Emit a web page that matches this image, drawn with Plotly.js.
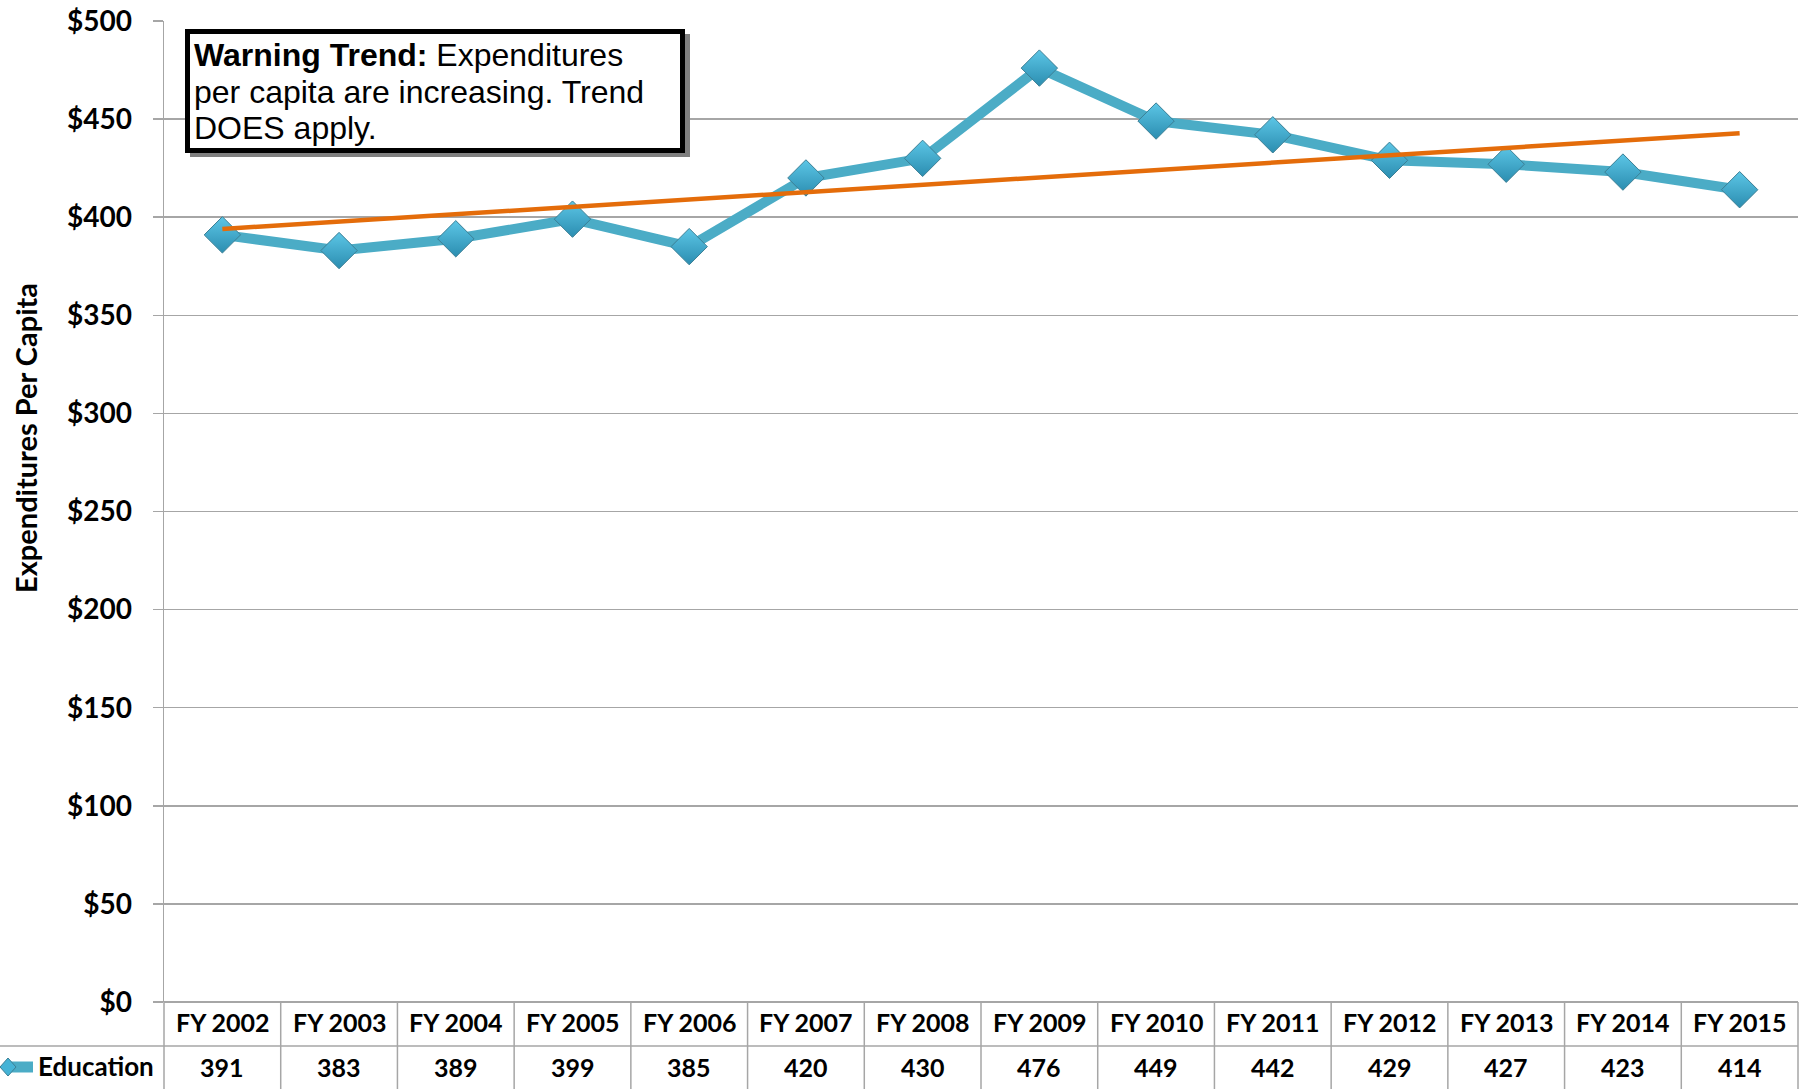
<!DOCTYPE html>
<html>
<head>
<meta charset="utf-8">
<script src="https://cdn.plot.ly/plotly-3.0.1.min.js"></script>
<style>
  html, body { margin: 0; padding: 0; background: #ffffff; }
  #chart { width: 1809px; height: 1089px; }
</style>
</head>
<body>
<div id="chart"></div>
<script>
// ---- data ----
const categories = ["FY 2002","FY 2003","FY 2004","FY 2005","FY 2006","FY 2007","FY 2008",
                    "FY 2009","FY 2010","FY 2011","FY 2012","FY 2013","FY 2014","FY 2015"];
const education = [391, 383, 389, 399, 385, 420, 430, 476, 449, 442, 429, 427, 423, 414];
// linear trendline end points as drawn in the reference
const trendCategories = ["FY 2002", "FY 2015"];
const trendValues = [394, 442.8];
const seriesName = "Education";
const yTitle = "Expenditures Per Capita";
const noteLines = ["<b>Warning Trend:</b> Expenditures",
                   "per capita are increasing. Trend",
                   "DOES apply."];

// ---- layout helpers (pixel geometry) ----
const W = 1809, H = 1089;
const M = {l: 164, r: 11, t: 21, b: 87};
const PW = W - M.l - M.r, PH = H - M.t - M.b;
const px = x => (x - M.l) / PW;          // pixel x -> paper x
const py = y => (H - M.b - y) / PH;      // pixel y -> paper y

const GRID = '#a6a6a6';
const FONT = 'Lato, "Open Sans", sans-serif';
const TXT = '#000000';

const traces = [
  {
    x: categories, y: education, name: seriesName, type: 'scatter', mode: 'lines+markers',
    line: {color: '#4BACC6', width: 10},
    marker: {symbol: 'diamond', size: 28, color: '#5cc6e6',
             gradient: {type: 'vertical', color: '#2b8db0'},
             line: {color: '#3b7f95', width: 1}},
    showlegend: false, hoverinfo: 'x+y'
  },
  {
    x: trendCategories, y: trendValues, type: 'scatter', mode: 'lines',
    line: {color: '#E46C0A', width: 4.5}, showlegend: false, hoverinfo: 'skip'
  }
];

const shapes = [];
// table vertical lines
for (let k = 0; k <= categories.length; k++) {
  shapes.push({type: 'line', xref: 'paper', yref: 'paper',
    x0: k / categories.length, x1: k / categories.length, y0: 0, y1: py(H + 2),
    line: {color: GRID, width: 1.5}});
}
// table horizontal line between header and data row
shapes.push({type: 'line', xref: 'paper', yref: 'paper', x0: px(0), x1: 1,
  y0: py(1046), y1: py(1046), line: {color: GRID, width: 1.5}});
// legend key in table row label (line + diamond)
shapes.push({type: 'line', xref: 'paper', yref: 'paper', x0: px(6), x1: px(33),
  y0: py(1067), y1: py(1067), line: {color: '#4BACC6', width: 11}});
shapes.push({type: 'path', xref: 'paper', yref: 'paper',
  path: 'M ' + px(0) + ' ' + py(1067) + ' L ' + px(8) + ' ' + py(1058) + ' L ' + px(16) + ' ' + py(1067) +
        ' L ' + px(8) + ' ' + py(1076) + ' Z',
  fillcolor: '#45b3d6', line: {color: '#3b7f95', width: 1}});
// note box: shadow + box
shapes.push({type: 'rect', xref: 'paper', yref: 'paper', layer: 'above',
  x0: px(190), x1: px(690), y0: py(34), y1: py(157),
  fillcolor: '#7f7f7f', line: {width: 0}});
shapes.push({type: 'rect', xref: 'paper', yref: 'paper', layer: 'above',
  x0: px(187.5), x1: px(682.5), y0: py(31.5), y1: py(150.5),
  fillcolor: '#ffffff', line: {color: '#000000', width: 5}});

const annotations = [];
categories.forEach((c, i) => {
  annotations.push({x: c, xref: 'x', y: py(1022), yref: 'paper', text: '<b>' + c + '</b>',
    showarrow: false, xanchor: 'center', yanchor: 'middle',
    font: {family: FONT, size: 25, color: TXT}});
  annotations.push({x: c, xref: 'x', y: py(1067), yref: 'paper', text: '<b>' + education[i] + '</b>',
    showarrow: false, xanchor: 'center', yanchor: 'middle',
    font: {family: FONT, size: 25, color: TXT}});
});
annotations.push({x: px(156), y: py(1066), xref: 'paper', yref: 'paper', text: '<b>' + seriesName + '</b>',
  showarrow: false, xanchor: 'right', yanchor: 'middle',
  font: {family: FONT, size: 26, color: TXT}});
annotations.push({x: px(25), y: py(438), xref: 'paper', yref: 'paper', text: '<b>' + yTitle + '</b>',
  textangle: -90, showarrow: false, xanchor: 'center', yanchor: 'middle',
  font: {family: FONT, size: 29, color: TXT}});
const noteY = [55, 92, 128];
noteLines.forEach((t, i) => {
  annotations.push({x: px(192), y: py(noteY[i]), xref: 'paper', yref: 'paper', text: t,
    showarrow: false, xanchor: 'left', yanchor: 'middle',
    font: {family: '"Liberation Sans", Arial, sans-serif', size: 32, color: TXT}});
});

const layout = {
  width: W, height: H, margin: M,
  paper_bgcolor: '#ffffff', plot_bgcolor: '#ffffff',
  font: {family: FONT, color: TXT},
  showlegend: false,
  xaxis: {type: 'category', categoryarray: categories, range: [-0.5, categories.length - 0.5],
    showticklabels: false, showgrid: false, zeroline: false, showline: false, ticks: ''},
  yaxis: {range: [0, 500], dtick: 50, tick0: 0, tickprefix: '$',
    showgrid: true, gridcolor: GRID, gridwidth: 1.5,
    zeroline: true, zerolinecolor: GRID, zerolinewidth: 1.5,
    showline: true, linecolor: GRID, linewidth: 1.5,
    ticks: 'outside', ticklen: 10, tickcolor: GRID, tickwidth: 1.5,
    ticklabelstandoff: 15,
    tickfont: {family: FONT, size: 28, color: TXT, weight: 'bold'}},
  shapes: shapes, annotations: annotations
};

Plotly.newPlot('chart', traces, layout, {displayModeBar: false, staticPlot: true});
</script>
</body>
</html>
